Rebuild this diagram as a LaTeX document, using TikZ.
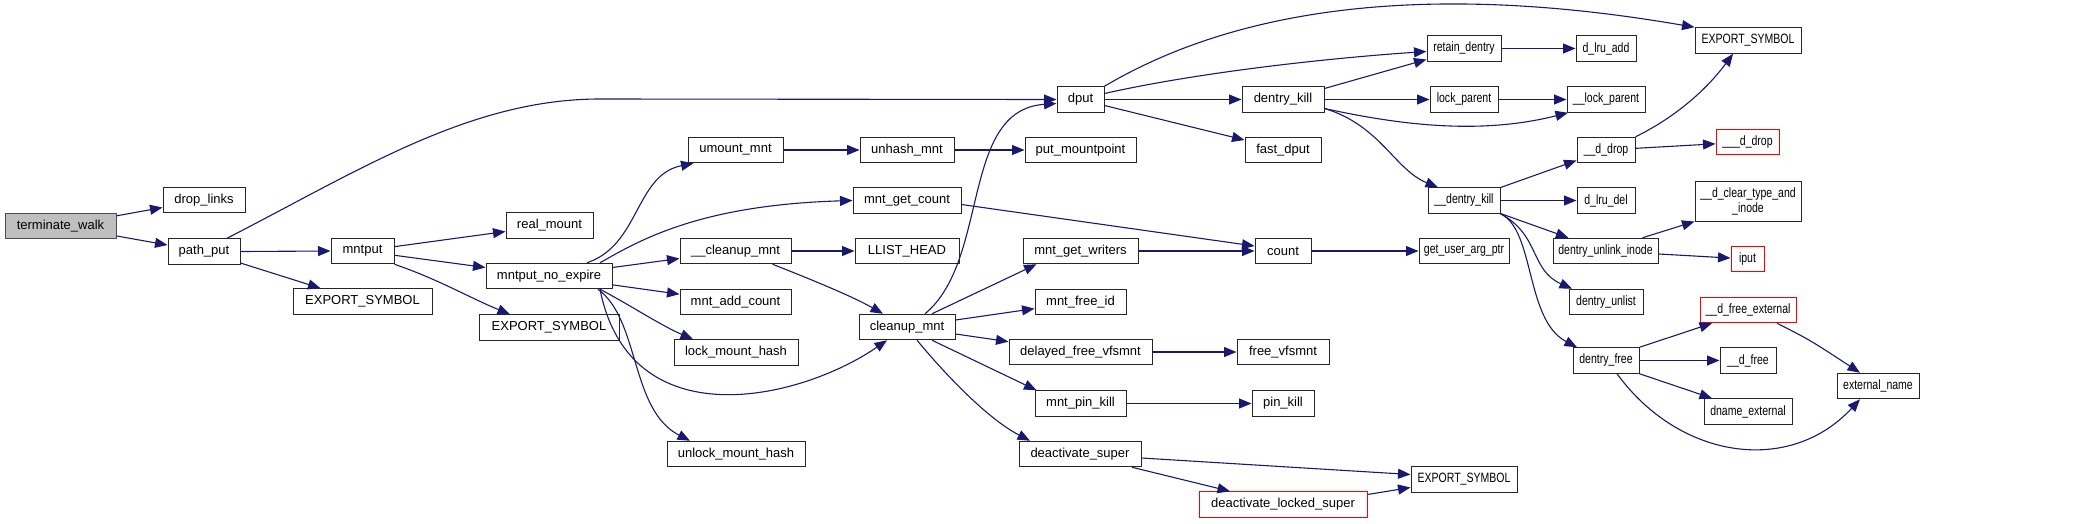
\documentclass[tikz,border=0pt]{standalone}
\usepackage{fontspec}
\setmainfont{Liberation Sans}
\newfontfamily\narrowfont[FakeStretch=0.78]{Liberation Sans}
\usetikzlibrary{arrows.meta,calc}

\definecolor{edgeblue}{HTML}{191970}
\definecolor{rootgray}{HTML}{BFBFBF}

\begin{document}
\begin{tikzpicture}[x=1pt, y=-1pt,
    fn/.style={draw=black!85, line width=1pt, inner sep=0pt, minimum height=25.5pt,
        font=\fontsize{13}{15}\selectfont},
    fnarrow/.style={fn, font=\narrowfont\fontsize{13.5}{15}\selectfont},
    trunc/.style={draw=red},
    root/.style={fill=rootgray, draw=black!70},
    call/.style={draw=edgeblue, line width=1.1pt, -{Triangle[length=12.5pt,width=10pt]}}]

    \useasboundingbox (0,0) rectangle (2085,523);

    % =========================================================================
    % LEFT PART: terminate_walk, path_put, mntput
    % =========================================================================
    \node[fn, root, minimum width=111pt] (tw) at (60.5,226) {terminate\_walk};
    \node[fn, minimum width=82pt] (dropLinks) at (204,200) {drop\_links};
    \node[fn, minimum width=72pt] (pathPut) at (204,251.5) {path\_put};
    \node[fn, minimum width=139pt] (exp1) at (362.5,301.5) {EXPORT\_SYMBOL};
    \node[fn, minimum width=63pt] (mntput) at (362.5,251) {mntput};
    \node[fn, minimum width=87pt] (realMount) at (549.5,225.5) {real\_mount};
    \node[fn, minimum width=126pt] (mne) at (549,276) {mntput\_no\_expire};
    \node[fn, minimum width=140pt] (exp2) at (549,327.5) {EXPORT\_SYMBOL};

    % =========================================================================
    % MIDDLE PART: mntput_no_expire callees, cleanup_mnt
    % =========================================================================
    \node[fn, minimum width=95pt] (umount) at (735.5,150) {umount\_mnt};
    \node[fn, minimum width=94pt] (unhash) at (907,150) {unhash\_mnt};
    \node[fn, minimum width=111pt] (putMp) at (1080.5,150) {put\_mountpoint};
    \node[fn, minimum width=108pt] (mgc) at (907,200.5) {mnt\_get\_count};
    \node[fn, minimum width=111pt] (cleanupU) at (735.5,251) {\_\_cleanup\_mnt};
    \node[fn, minimum width=104pt] (llist) at (907,251) {LLIST\_HEAD};
    \node[fn, minimum width=111pt] (mac) at (735.5,302) {mnt\_add\_count};
    \node[fn, minimum width=124pt] (lmh) at (736,352.5) {lock\_mount\_hash};
    \node[fn, minimum width=138pt] (umh) at (736,454) {unlock\_mount\_hash};
    \node[fn, minimum width=96pt] (cleanup) at (907,327) {cleanup\_mnt};

    \node[fn, minimum width=47pt] (dput) at (1080.5,99.5) {dput};
    \node[fn, minimum width=82pt] (dkill) at (1283,99.5) {dentry\_kill};
    \node[fn, minimum width=76pt] (fastDput) at (1283,150) {fast\_dput};
    \node[fn, minimum width=115pt] (mgw) at (1080.5,251) {mnt\_get\_writers};
    \node[fn, minimum width=56pt] (count) at (1283,251) {count};
    \node[fn, minimum width=91pt] (mfi) at (1080.5,302) {mnt\_free\_id};
    \node[fn, minimum width=143pt] (dfv) at (1080.5,352) {delayed\_free\_vfsmnt};
    \node[fn, minimum width=92pt] (freeV) at (1283,352) {free\_vfsmnt};
    \node[fn, minimum width=91pt] (mpk) at (1080.5,403.5) {mnt\_pin\_kill};
    \node[fn, minimum width=62pt] (pinKill) at (1283,403.5) {pin\_kill};
    \node[fn, minimum width=122pt] (deact) at (1080,454) {deactivate\_super};
    \node[fn, trunc, minimum width=168pt] (dls) at (1283,504.5) {deactivate\_locked\_super};

    % =========================================================================
    % RIGHT PART: dentry callees
    % =========================================================================
    \node[fnarrow, minimum width=74pt] (retain) at (1464,48.5) {retain\_dentry};
    \node[fnarrow, minimum width=60pt] (lruAdd) at (1606,48.5) {d\_lru\_add};
    \node[fnarrow, minimum width=106pt] (exp3) at (1748,40.5) {EXPORT\_SYMBOL};
    \node[fnarrow, minimum width=68pt] (lockP) at (1464,99.5) {lock\_parent};
    \node[fnarrow, minimum width=78pt] (lockPU) at (1606,99.5) {\_\_lock\_parent};
    \node[fnarrow, minimum width=58pt] (dDrop) at (1606,150) {\_\_d\_drop};
    \node[fnarrow, trunc, minimum width=63pt] (dDropU) at (1747.5,142) {\_\_\_d\_drop};
    \node[fnarrow, minimum width=72pt] (dkillU) at (1464,200.5) {\_\_dentry\_kill};
    \node[fnarrow, minimum width=58pt] (lruDel) at (1606,200.5) {d\_lru\_del};
    \node[fnarrow, minimum width=106pt, minimum height=40pt, align=center] (clearTI) at (1748,201)
        {\_\_d\_clear\_type\_and\\\_inode};
    \node[fnarrow, minimum width=90pt] (guap) at (1464,251) {get\_user\_arg\_ptr};
    \node[fnarrow, minimum width=105pt] (dui) at (1605.5,251) {dentry\_unlink\_inode};
    \node[fnarrow, trunc, minimum width=33pt] (iput) at (1747.5,259) {iput};
    \node[fnarrow, minimum width=74pt] (unlist) at (1606,302) {dentry\_unlist};
    \node[fnarrow, trunc, minimum width=96pt] (dfe) at (1748,310) {\_\_d\_free\_external};
    \node[fnarrow, minimum width=66pt] (dfree) at (1606,360.5) {dentry\_free};
    \node[fnarrow, minimum width=56pt] (dFreeU) at (1748,360.5) {\_\_d\_free};
    \node[fnarrow, minimum width=88pt] (dname) at (1748,411.5) {dname\_external};
    \node[fnarrow, minimum width=82pt] (extName) at (1878,386) {external\_name};
    \node[fnarrow, minimum width=106pt] (exp4) at (1464,479.5) {EXPORT\_SYMBOL};

    % --- Calls from the left part ---
    \draw[call] (tw) -- (dropLinks);
    \draw[call] (tw) -- (pathPut);
    \draw[call] ([xshift=23pt]pathPut.north) .. controls (360,170) and (470,99) .. (600,99) -- (dput.west);
    \draw[call] (pathPut.east) -- (mntput.west);
    \draw[call] (pathPut) -- (exp1);
    \draw[call] (mntput) -- (realMount);
    \draw[call] (mntput) -- (mne);
    \draw[call] (mntput.south east) .. controls (440,280) and (470,298) .. ([xshift=-39pt]exp2.north);

    % --- Calls from mntput_no_expire ---
    \draw[call] ([xshift=38pt]mne.north) .. controls (640,245) and (635,175) .. ([xshift=-42pt]umount.south);
    \draw[call] ([xshift=51pt]mne.north) .. controls (640,240) and (700,205) .. (mgc.west);
    \draw[call] (mne) -- (cleanupU);
    \draw[call] (mne) -- (mac);
    \draw[call] ([xshift=51pt]mne.south) .. controls (630,305) and (660,325) .. ([xshift=-43pt]lmh.north);
    \draw[call] ([xshift=51pt]mne.south) .. controls (630,440) and (800,400) .. ([xshift=-20pt]cleanup.south);
    \draw[call] ([xshift=49pt]mne.south) .. controls (640,320) and (630,410) .. ([xshift=-46pt]umh.north);

    \draw[call] (umount.east) -- (unhash.west);
    \draw[call] (unhash.east) -- (putMp.west);
    \draw[call] ([yshift=-4pt]mgc.east) -- ([yshift=5pt]count.west);
    \draw[call] (cleanupU.east) -- (llist.west);
    \draw[call] ([xshift=37pt]cleanupU.south) .. controls (800,275) and (850,295) .. ([xshift=-24pt]cleanup.north);

    % --- Calls from cleanup_mnt ---
    \draw[call] ([xshift=18pt]cleanup.north) .. controls (990,260) and (960,110) .. ([yshift=-4pt]dput.west);
    \draw[call] ([xshift=25pt]cleanup.north) -- ([xshift=-44pt]mgw.south);
    \draw[call] (cleanup) -- (mfi);
    \draw[call] (cleanup) -- (dfv);
    \draw[call] ([xshift=25pt]cleanup.south) -- ([xshift=-44pt]mpk.north);
    \draw[call] ([xshift=10pt]cleanup.south) .. controls (950,380) and (990,420) .. ([xshift=-50pt]deact.north);

    \draw[call] (mgw.east) -- (count.west);
    \draw[call] (count.east) -- (guap.west);
    \draw[call] (dfv.east) -- (freeV.west);
    \draw[call] (mpk.east) -- (pinKill.west);
    \draw[call] ([yshift=-4pt]deact.east) -- ([yshift=5pt]exp4.west);
    \draw[call] ([xshift=52pt]deact.south) -- ([xshift=-53pt]dls.north);
    \draw[call] ([yshift=10pt]dls.east) -- ([yshift=-8pt]exp4.west);

    % --- Calls from dput and dentry_kill ---
    \draw[call] ([yshift=6pt]dput.east) .. controls (1200,72) and (1330,58) .. ([yshift=-3pt]retain.west);
    \draw[call] (dput.north east) .. controls (1250,0) and (1450,-15) .. (exp3.north west);
    \draw[call] (dput.east) -- (dkill.west);
    \draw[call] ([yshift=-6pt]dput.east) -- ([yshift=10pt]fastDput.west);
    \draw[call] ([yshift=11pt]dkill.east) -- ([yshift=-11pt]retain.west);
    \draw[call] (dkill.east) -- (lockP.west);
    \draw[call] ([yshift=-9pt]dkill.east) .. controls (1400,125) and (1480,135) .. ([xshift=-38pt]lockPU.south);
    \draw[call] ([yshift=-9pt]dkill.east) .. controls (1380,125) and (1395,170) .. ([xshift=-26pt]dkillU.north);
    \draw[call] (retain.east) -- (lruAdd.west);
    \draw[call] (lockP.east) -- (lockPU.west);

    % --- Calls from __dentry_kill ---
    \draw[call] (dDrop.north east) .. controls (1680,115) and (1710,85) .. ([xshift=-15pt]exp3.south);
    \draw[call] (dDrop) -- (dDropU);
    \draw[call] (dkillU) -- (dDrop);
    \draw[call] (dkillU.east) -- (lruDel.west);
    \draw[call] (dkillU) -- (dui);
    \draw[call] (dkillU.south east) .. controls (1540,235) and (1530,270) .. ([xshift=-34pt]unlist.north);
    \draw[call] (dkillU.south east) .. controls (1535,230) and (1525,320) .. ([xshift=-29pt]dfree.north);
    \draw[call] ([xshift=37pt]dui.north) -- (clearTI.south west);
    \draw[call] (dui) -- (iput);

    % --- Calls from dentry_free ---
    \draw[call] (dfree.north east) -- ([xshift=-36pt]dfe.south);
    \draw[call] (dfree.east) -- (dFreeU.west);
    \draw[call] (dfree.south east) -- ([xshift=-36pt]dname.north);
    \draw[call] ([xshift=11pt]dfree.south) .. controls (1680,460) and (1790,475) .. ([xshift=-18pt]extName.south);
    \draw[call] ([xshift=29pt]dfe.south) .. controls (1810,340) .. ([xshift=-18pt]extName.north);

\end{tikzpicture}
\end{document}
